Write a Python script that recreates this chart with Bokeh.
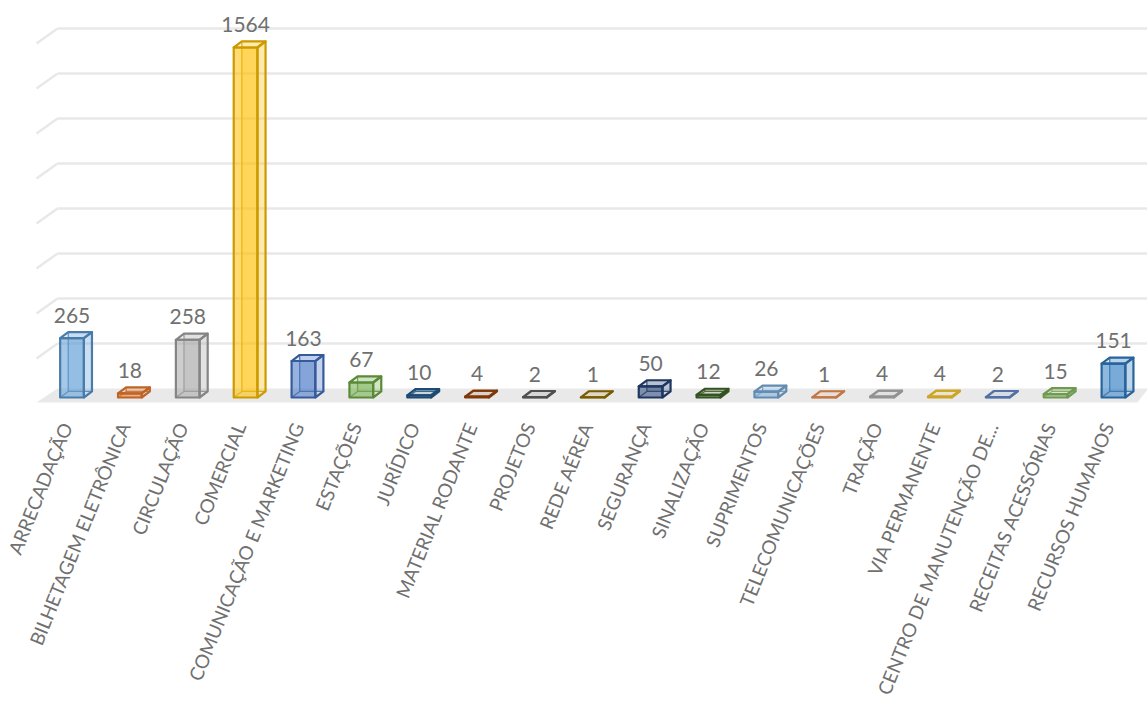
import math
from bokeh.plotting import figure
from bokeh.models import Range1d, FixedTicker, ColumnDataSource
from bokeh.core.properties import value
from bokeh.embed import file_html
from bokeh.resources import INLINE

categories = ["ARRECADAÇÃO", "BILHETAGEM ELETRÔNICA", "CIRCULAÇÃO", "COMERCIAL",
              "COMUNICAÇÃO E MARKETING", "ESTAÇÕES", "JURÍDICO", "MATERIAL RODANTE",
              "PROJETOS", "REDE AÉREA", "SEGURANÇA", "SINALIZAÇÃO", "SUPRIMENTOS",
              "TELECOMUNICAÇÕES", "TRAÇÃO", "VIA PERMANENTE", "CENTRO DE MANUTENÇÃO DE...",
              "RECEITAS ACESSÓRIAS", "RECURSOS HUMANOS"]
values = [265, 18, 258, 1564, 163, 67, 10, 4, 2, 1, 50, 12, 26, 1, 4, 4, 2, 15, 151]
colors = ["#5B9BD5", "#ED7D31", "#A5A5A5", "#FFC000", "#4472C4", "#70AD47", "#255E91",
          "#9E480E", "#636363", "#997300", "#264478", "#43682B", "#7CAFDD", "#F1975A",
          "#B7B7B7", "#FFCD33", "#698ED0", "#8CC168", "#327DC2"]
grid_ticks = [200, 400, 600, 800, 1000, 1200, 1400, 1600]

FONT = "Lato"
TEXT_COLOR = "#707070"

def darker(hexc, f=0.8):
    h = hexc.lstrip("#")
    r, g, b = (int(h[i:i + 2], 16) for i in (0, 2, 4))
    return "#%02x%02x%02x" % (int(r * f), int(g * f), int(b * f))

p = figure(frame_width=1147, frame_height=404, output_backend="svg", toolbar_location=None,
           x_range=Range1d(-1.236, 18.588), y_range=Range1d(-31.3, 1774),
           y_axis_location=None, min_border_left=0, min_border_right=0, min_border_top=0,
           min_border_bottom=0)
p.extra_y_ranges = {"wall": Range1d(-71.1, 1724.4)}
p.outline_line_color = None
p.xgrid.visible = False
p.ygrid.visible = False
p.background_fill_color = "white"
p.border_fill_color = "white"

# floor
p.patch(x=[-0.614, 18.415, 18.6, -0.25], y=[-62.2, -62.2, 0, 0], y_range_name="wall",
        fill_color="#e9e9e9", line_color=None)

# wall gridlines
p.segment(x0=[-0.25] * len(grid_ticks), y0=grid_ticks, x1=[18.7] * len(grid_ticks), y1=grid_ticks,
          y_range_name="wall", line_color="#e8e8e8", line_width=2.5)
p.segment(x0=[-0.614] * len(grid_ticks), y0=[g - 66.7 for g in grid_ticks],
          x1=[-0.25] * len(grid_ticks), y1=grid_ticks,
          y_range_name="wall", line_color="#e8e8e8", line_width=2.5)

hw = 0.205   # half width of front face (x units)
dx = 0.14    # depth offset (x units)
dy = 27.0    # depth offset (y units)

xs = list(range(len(values)))
front_x, front_y, top_x, top_y, side_x, side_y, back_x, back_y = [], [], [], [], [], [], [], []
hid_x, hid_y, hid_c = [], [], []
for i, v in zip(xs, values):
    front_x.append([i - hw, i + hw, i + hw, i - hw])
    front_y.append([0, 0, v, v])
    top_x.append([i - hw, i + hw, i + hw + dx, i - hw + dx])
    top_y.append([v, v, v + dy, v + dy])
    side_x.append([i + hw, i + hw + dx, i + hw + dx, i + hw])
    side_y.append([0, dy, v + dy, v])
    back_x.append([i - hw + dx, i + hw + dx, i + hw + dx, i - hw + dx])
    back_y.append([dy, dy, v + dy, v + dy])
    c = darker(colors[i])
    hid_x += [[i - hw + dx, i - hw + dx], [i - hw + dx, i + hw + dx], [i - hw, i - hw + dx]]
    hid_y += [[dy, v + dy], [dy, dy], [0, dy]]
    hid_c += [c, c, c]

line_cols = [darker(c) for c in colors]
src = ColumnDataSource(dict(front_x=front_x, front_y=front_y, top_x=top_x, top_y=top_y,
                            side_x=side_x, side_y=side_y, back_x=back_x, back_y=back_y,
                            fill=colors, line=line_cols))

p.patches("back_x", "back_y", source=src, fill_color="fill", fill_alpha=0.22, line_color=None)
p.multi_line(hid_x, hid_y, line_color=hid_c, line_width=1.3, line_alpha=0.8)
p.patches("front_x", "front_y", source=src, fill_color="fill", fill_alpha=0.55,
          line_color="line", line_width=2.2, line_join="round")
p.patches("side_x", "side_y", source=src, fill_color="fill", fill_alpha=0.12,
          line_color="line", line_width=2.2, line_join="round")
p.patches("top_x", "top_y", source=src, fill_color="fill", fill_alpha=0.15,
          line_color="line", line_width=2.2, line_join="round")

# data labels
p.text(x=xs, y=values, text=[str(v) for v in values], text_align="center",
       text_baseline="alphabetic", y_offset=-23, text_font=value(FONT),
       text_font_size="21px", text_color=TEXT_COLOR)

label_pos = [i - 0.1 for i in xs]
ax = p.xaxis[0]
ax.ticker = FixedTicker(ticks=label_pos)
ax.major_label_overrides = {t: c for t, c in zip(label_pos, categories)}
ax.major_label_orientation = math.radians(68)
ax.axis_line_color = None
ax.major_tick_line_color = None
ax.minor_tick_line_color = None
ax.major_label_standoff = 13
ax.major_label_text_font = FONT
ax.major_label_text_font_size = "19px"
ax.major_label_text_color = TEXT_COLOR

open("out.html", "w").write(file_html(p, INLINE))
